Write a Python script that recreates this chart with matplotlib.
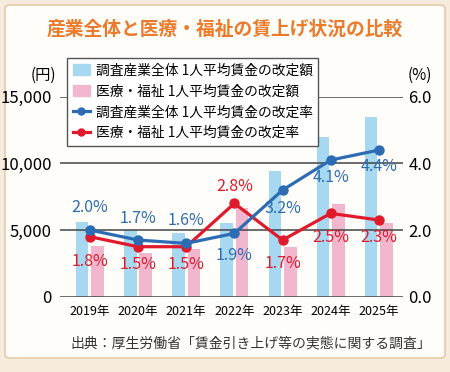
import matplotlib
matplotlib.use("Agg")
import matplotlib.pyplot as plt
from matplotlib.patches import FancyBboxPatch, Patch
from matplotlib.lines import Line2D

plt.rcParams['font.family'] = ['Noto Sans CJK JP', 'DejaVu Sans']

# data
years = ["2019年", "2020年", "2021年", "2022年", "2023年", "2024年", "2025年"]
all_amount = [5600, 5000, 4800, 5550, 9450, 12000, 13500]
care_amount = [3800, 3250, 3600, 6650, 3750, 6950, 5500]
all_rate = [2.0, 1.7, 1.6, 1.9, 3.2, 4.1, 4.4]
care_rate = [1.8, 1.5, 1.5, 2.8, 1.7, 2.5, 2.3]

# label offsets in pixels (up +, down -)
all_off = [23, 22, 23, -22, -18, -17, -16]
care_off = [-25, -18, -18, 17, -23, -24, -17]

c_bar_all = "#a6d8f2"
c_bar_care = "#f2b6cf"
c_line_all = "#2b6cb3"
c_line_care = "#e01a2c"

fig = plt.figure(figsize=(4.5, 3.72), dpi=100)
fig.patch.set_facecolor("#f6ebdc")
fig.patches.append(FancyBboxPatch((5 / 450, 14 / 372), 440 / 450, 353 / 372,
                                  boxstyle="round,pad=0,rounding_size=0.01",
                                  transform=fig.transFigure, facecolor="#fffdf9",
                                  edgecolor="#e3c39c", linewidth=1.0, zorder=-10))

fig.text(0.5, 1 - 29 / 372, "産業全体と医療・福祉の賃上げ状況の比較", ha="center", va="center",
         fontsize=13.5, fontweight="bold", color="#ec7a2a")

ax = fig.add_axes([60 / 450, 0.2024, 343 / 450, 0.5376])
ax.patch.set_visible(False)
x = list(range(len(years)))
ax.bar([i - 0.16 for i in x], all_amount, width=0.26, color=c_bar_all, zorder=1)
ax.bar([i + 0.16 for i in x], care_amount, width=0.26, color=c_bar_care, zorder=1)
ax.set_ylim(0, 15000)
ax.set_xlim(-0.62, 6.5)
ax.set_yticks([0, 5000, 10000, 15000])
ax.set_yticklabels(["0", "5,000", "10,000", "15,000"])
ax.yaxis.grid(True, color="#444444", linewidth=1.1, zorder=2)
ax.set_axisbelow(False)
ax.set_xticks(x)
ax.set_xticklabels(years, fontsize=9)
ax.tick_params(axis="x", length=0, pad=6)
ax.tick_params(axis="y", length=0, pad=6, labelsize=12)
for s in ax.spines.values():
    s.set_visible(False)

ax2 = ax.twinx()
ax2.set_ylim(0, 6)
ax2.set_yticks([0, 2, 4, 6])
ax2.set_yticklabels(["0.0", "2.0", "4.0", "6.0"])
ax2.tick_params(axis="y", length=0, pad=4, labelsize=12)
for s in ax2.spines.values():
    s.set_visible(False)
ax2.plot(x, care_rate, color=c_line_care, linewidth=2.3, marker="o", markersize=6.5)
ax2.plot(x, all_rate, color=c_line_all, linewidth=2.3, marker="o", markersize=6.5)

for i in x:
    ax2.annotate(f"{all_rate[i]:.1f}%", (i, all_rate[i]), xytext=(0, all_off[i]),
                 textcoords="offset pixels", ha="center", va="center",
                 fontsize=11.5, color=c_line_all)
    ax2.annotate(f"{care_rate[i]:.1f}%", (i, care_rate[i]), xytext=(0, care_off[i]),
                 textcoords="offset pixels", ha="center", va="center",
                 fontsize=11.5, color=c_line_care)

fig.text(43 / 450, 1 - 75 / 372, "(円)", ha="center", va="center", fontsize=11)
fig.text(420 / 450, 1 - 75 / 372, "(%)", ha="center", va="center", fontsize=11)

handles = [
    Patch(color=c_bar_all),
    Patch(color=c_bar_care),
    Line2D([], [], color=c_line_all, linewidth=2.3, marker="o", markersize=5),
    Line2D([], [], color=c_line_care, linewidth=2.3, marker="o", markersize=5),
]
labels = [
    "調査産業全体 1人平均賃金の改定額",
    "医療・福祉 1人平均賃金の改定額",
    "調査産業全体 1人平均賃金の改定率",
    "医療・福祉 1人平均賃金の改定率",
]
leg = fig.legend(handles, labels, loc="upper left", bbox_to_anchor=(67 / 450, 1 - 58 / 372),
                 borderaxespad=0, fontsize=9.9, frameon=True, fancybox=False,
                 edgecolor="#555555", framealpha=1, handlelength=1.3, handleheight=0.9,
                 handletextpad=0.4, labelspacing=0.5, borderpad=0.4)
leg.get_frame().set_linewidth(1.0)

fig.text(251 / 450, 1 - 343 / 372, "出典：厚生労働省「賃金引き上げ等の実態に関する調査」",
         ha="center", va="center", fontsize=10, color="#333333")

fig.savefig("out.png", dpi=100, facecolor=fig.get_facecolor())
